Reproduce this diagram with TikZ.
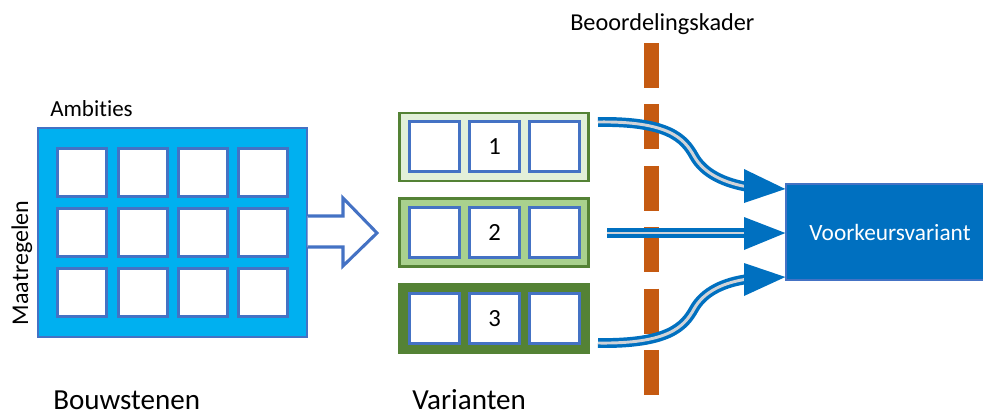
\documentclass[tikz,border=0pt]{standalone}
\usepackage{fontspec}
\setmainfont{Carlito}[Ligatures={NoCommon,NoRare,NoContextual}]
\definecolor{cyanfill}{HTML}{00B0F0}
\definecolor{cellblue}{HTML}{4472C4}
\definecolor{gLight}{HTML}{E2F0D9}
\definecolor{gMid}{HTML}{A9D18E}
\definecolor{gDark}{HTML}{548235}
\definecolor{orangeK}{HTML}{C55A11}
\definecolor{arrowblue}{HTML}{0070C0}
\definecolor{innergray}{HTML}{D0D3D8}
\begin{document}
\begin{tikzpicture}[x=0.75pt,y=-0.75pt,
  cell/.style={draw=cellblue, line width=2.25pt, fill=white, inner sep=0pt,
    minimum width=36.75pt, minimum height=36pt, font=\fontsize{18.5}{20}\selectfont},
  vcell/.style={cell, minimum width=37.5pt, minimum height=37.5pt},
  vbox/.style={draw=gDark, line width=1.9pt, inner sep=0pt, minimum width=142pt, minimum height=51pt},
  lbl/.style={inner sep=0pt, font=\fontsize{21.8}{24}\selectfont},
  flow/.style={draw=arrowblue, line width=2.6pt, double=innergray, double distance=2.2pt, line cap=butt},
  headtip/.style={fill=arrowblue},
  kader/.style={draw=orangeK, line width=11.25pt, dash pattern=on 33.75pt off 12.3pt}]
\useasboundingbox (0,0) rectangle (983,415);

% Bouwstenen block
\node[draw=cellblue, line width=1.1pt, fill=cyanfill, inner sep=0pt,
  minimum width=201.75pt, minimum height=156.75pt] (big) at (172.5,232.5) {};
\foreach \c/\x in {1/82,2/142.5,3/202.5,4/262.5}{
  \foreach \r/\y in {1/172,2/232,3/292.5}{
    \node[cell] (g\r\c) at (\x,\y) {};
  }
}
\node[lbl, anchor=base west, font=\fontsize{17.25}{20}\selectfont] (amb) at (50,116) {Ambities};
\node[lbl, anchor=base, rotate=90, font=\fontsize{18}{20}\selectfont] (maat) at (28,263) {Maatregelen};
\node[lbl, anchor=base west] (bouw) at (53,409.5) {Bouwstenen};

% hollow arrow
\draw[draw=cellblue, line width=2.3pt, fill=white, line join=miter]
  (big.east |- 0,216) -- (343,216) -- (343,198) -- (377,233) -- (343,266) -- (343,247) -- (big.east |- 0,247);

% Varianten
\node[vbox, fill=gLight] (v1) at (494,147) {};
\node[vbox, fill=gMid] (v2) at (494,232.5) {};
\node[vbox, fill=gDark] (v3) at (494,318.5) {};
\foreach \r/\y in {1/146.5,2/232.5,3/318.5}{
  \node[vcell] (a\r) at (434.5,\y) {};
  \node[vcell] (b\r) at (494.5,\y) {\r};
  \node[vcell] (c\r) at (554.5,\y) {};
}
\node[lbl, anchor=base west] (var) at (412,409.5) {Varianten};

% Beoordelingskader
\coordinate (ktop) at (651,43);
\coordinate (kbot) at (651,395);
\draw[kader] (ktop) -- (kbot);
\node[lbl, anchor=base west, font=\fontsize{18.2}{20}\selectfont] (kaderlbl) at (570,30) {Beoordelingskader};

% Voorkeursvariant
\node[draw=cellblue, line width=1pt, fill=arrowblue, inner sep=0pt,
  minimum width=156pt, minimum height=72pt, text=white,
  font=\fontsize{17.5}{20}\selectfont] (voork) at (890,232) {Voorkeursvariant};

% flows
\coordinate (s1) at (598,122);
\coordinate (s2) at (607,233);
\coordinate (s3) at (598,343);
\coordinate (e1) at (748,187);
\coordinate (e2) at (748,233);
\coordinate (e3) at (748,279);
\draw[flow] (s1) .. controls (668,121) and (684,138) .. (694,156)
  .. controls (704,174) and (725,183) .. (e1);
\draw[flow] (s2) -- (e2);
\draw[flow] (s3) .. controls (668,344) and (684,327) .. (694,309)
  .. controls (704,291) and (725,282) .. (e3);
\fill[headtip] (744,169) -- (voork.west |- 0,189) -- (744,203) -- cycle;
\fill[headtip] (744,217) -- (voork.west |- 0,233) -- (744,250) -- cycle;
\fill[headtip] (744,263) -- (voork.west |- 0,277) -- (744,296) -- cycle;
\end{tikzpicture}
\end{document}
